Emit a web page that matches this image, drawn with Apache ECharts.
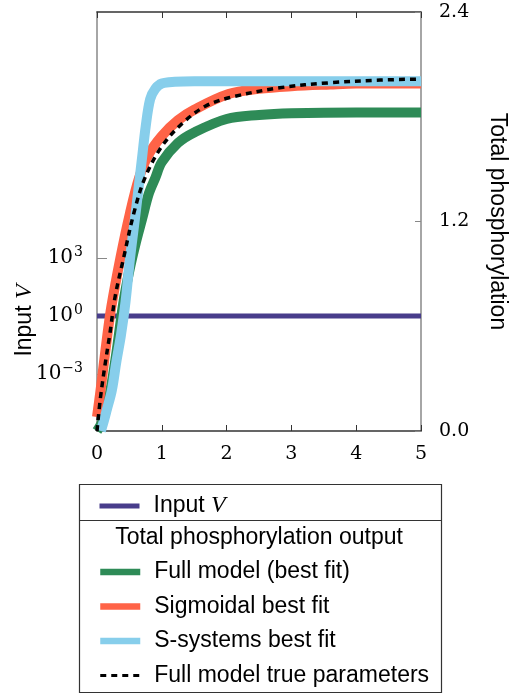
<!DOCTYPE html>
<html>
<head>
<meta charset="utf-8">
<script src="https://cdn.jsdelivr.net/npm/echarts@6/dist/echarts.min.js"></script>
<style>html,body{margin:0;padding:0;background:#fff}#c{width:511px;height:696px}</style>
</head>
<body>
<div id="c"></div>
<script>
// ---- data ----
const inputX = [0, 5];
const inputV = [1, 1];

const fullFitX = [0, 0.1, 0.2, 0.3, 0.4, 0.5, 0.6, 0.7, 0.8, 0.9, 1.0, 1.25, 1.5, 2.0, 2.5, 3, 4, 5];
const fullFitY = [0, 0.07, 0.22, 0.45, 0.72, 0.92, 1.08, 1.22, 1.36, 1.45, 1.54, 1.65, 1.71, 1.787, 1.81, 1.82, 1.825, 1.825];

const sigX = [0, 0.05, 0.1, 0.16, 0.22, 0.36, 0.51, 0.65, 0.79, 1.0, 1.25, 1.5, 2.03, 2.5, 3, 3.6, 4, 5];
const sigY = [0.08, 0.22, 0.37, 0.55, 0.71, 0.99, 1.25, 1.45, 1.58, 1.69, 1.78, 1.84, 1.93, 1.96, 1.975, 1.985, 1.99, 1.99];

const ssysX = [0.06, 0.1, 0.15, 0.23, 0.3, 0.37, 0.44, 0.51, 0.6, 0.65, 0.7, 0.75, 0.82, 0.9, 1.0, 1.2, 1.5, 2, 3, 4, 5];
const ssysY = [0, 0.05, 0.12, 0.235, 0.4, 0.55, 0.74, 0.99, 1.26, 1.42, 1.58, 1.74, 1.9, 1.96, 1.99, 2.0, 2.003, 2.003, 2.003, 2.003, 2.003];

const trueX = [0, 0.05, 0.12, 0.2, 0.28, 0.41, 0.57, 0.74, 1.0, 1.31, 1.67, 2.05, 2.82, 3.6, 4.37, 5];
const trueY = [0, 0.18, 0.37, 0.56, 0.77, 0.99, 1.25, 1.45, 1.63, 1.76, 1.86, 1.91, 1.966, 1.995, 2.01, 2.016];

const xTicks = [0, 1, 2, 3, 4, 5];
const leftTickValues = [0.001, 1, 1000];
const names = ['Input V', 'Full model (best fit)', 'Sigmoidal best fit', 'S-systems best fit', 'Full model true parameters'];
const legendTitle = 'Total phosphorylation output';

const zip = (xs, ys) => xs.map((x, i) => [x, ys[i]]);

const serif = 'DejaVu Serif';
const sans = 'Liberation Sans';
const xAxisColor = '#333';
const yAxisColor = '#888';

const chart = echarts.init(document.getElementById('c'), null, {renderer: 'canvas'});

const lineSeries = (name, data, color, width, extra) => Object.assign({
  name, type: 'line', data, xAxisIndex: 0, yAxisIndex: 1,
  symbol: 'none', showSymbol: false, smooth: 0.35,
  lineStyle: {color, width, cap: 'butt', join: 'round'}, itemStyle: {color},
  emphasis: {disabled: true}, silent: true, animation: false
}, extra || {});

chart.setOption({
  animation: false,
  grid: {left: 97, right: 90, top: 12, bottom: 265, containLabel: false, outerBoundsMode: 'none'},
  xAxis: [{
    type: 'value', position: 'bottom', min: 0, max: 5, interval: 1,
    axisLine: {onZero: false, lineStyle: {color: xAxisColor, width: 1.5}},
    axisTick: {inside: true, length: 6, lineStyle: {color: xAxisColor, width: 1}},
    axisLabel: {fontFamily: serif, fontSize: 19, color: '#000', margin: 14,
      customValues: xTicks},
    splitLine: {show: false}
  }, {
    type: 'value', position: 'top', min: 0, max: 5, interval: 1,
    axisLine: {onZero: false, lineStyle: {color: xAxisColor, width: 1.5}},
    axisTick: {inside: true, length: 6, lineStyle: {color: xAxisColor, width: 1}},
    axisLabel: {show: false},
    splitLine: {show: false}
  }],
  yAxis: [{
    type: 'log', position: 'left', logBase: 10,
    min: Math.pow(10, -5.95), max: Math.pow(10, 15.72),
    name: 'Input {i|V}', nameLocation: 'middle', nameRotate: 90, nameGap: 60,
    nameMoveOverlap: false,
    nameTextStyle: {fontFamily: sans, fontSize: 23, color: '#000', padding: [0, 198, 0, 0],
      rich: {i: {fontFamily: 'Liberation Serif', fontStyle: 'italic', fontSize: 24}}},
    axisLine: {onZero: false, lineStyle: {color: yAxisColor, width: 1.5}},
    axisTick: {inside: true, length: 10, customValues: leftTickValues, lineStyle: {color: yAxisColor, width: 1}},
    minorTick: {show: false},
    axisLabel: {customValues: leftTickValues, margin: 14, color: '#000',
      fontFamily: serif, fontSize: 20,
      formatter: v => {
        const e = Math.round(Math.log10(v));
        return '10{sup|' + (e < 0 ? '\u2212' + (-e) : e) + '}';
      },
      rich: {sup: {fontFamily: serif, fontSize: 14, padding: [0, 0, 12, 1]}}
    },
    splitLine: {show: false}
  }, {
    type: 'value', position: 'right', min: 0, max: 2.4, interval: 1.2,
    name: 'Total phosphorylation', nameLocation: 'middle', nameRotate: -90, nameGap: 65,
    nameMoveOverlap: false,
    nameTextStyle: {fontFamily: sans, fontSize: 23, color: '#000'},
    axisLine: {onZero: false, lineStyle: {color: yAxisColor, width: 1.5}},
    axisTick: {inside: true, length: 6, lineStyle: {color: yAxisColor, width: 1}},
    axisLabel: {fontFamily: serif, fontSize: 19, color: '#000', margin: 18,
      formatter: v => v.toFixed(1)},
    splitLine: {show: false}
  }],
  legend: [{
    data: [{name: names[0], lineStyle: {width: 5}}],
    orient: 'vertical', left: 92, top: 489,
    itemWidth: 40, itemHeight: 14, itemGap: 10,
    itemStyle: {opacity: 0},
    selectedMode: false,
    formatter: n => 'Input {i|V}',
    textStyle: {fontFamily: sans, fontSize: 23, color: '#000', lineHeight: 24, padding: [0, 0, 0, 9],
      rich: {i: {fontFamily: 'Liberation Serif', fontStyle: 'italic', fontSize: 24}}}
  }, {
    data: names.slice(1).map((n, i) => ({name: n, lineStyle: {width: i === 3 ? 3 : 6.5}})),
    orient: 'vertical', left: 92, top: 555,
    itemWidth: 40, itemHeight: 14, itemGap: 10.5,
    itemStyle: {opacity: 0},
    selectedMode: false,
    textStyle: {fontFamily: sans, fontSize: 23, color: '#000', lineHeight: 24, padding: [0, 0, 0, 9]}
  }],
  graphic: [
    {type: 'rect', shape: {x: 79.5, y: 484.5, width: 362, height: 208}, style: {fill: 'none', stroke: '#333', lineWidth: 1.2}, silent: true},
    {type: 'line', shape: {x1: 79.5, y1: 520.5, x2: 441.5, y2: 520.5}, style: {stroke: '#333', lineWidth: 1.2}, silent: true},
    {type: 'text', x: 259, y: 538, style: {text: legendTitle, font: '23px "Liberation Sans"', fill: '#000', align: 'center', verticalAlign: 'middle'}, silent: true}
  ],
  series: [
    lineSeries(names[0], zip(inputX, inputV), '#483d8b', 5, {yAxisIndex: 0, smooth: false}),
    lineSeries(names[1], zip(fullFitX, fullFitY), '#2e8b57', 10),
    lineSeries(names[2], zip(sigX, sigY), '#ff6347', 10),
    lineSeries(names[3], zip(ssysX, ssysY), '#87ceeb', 10),
    lineSeries(names[4], zip(trueX, trueY), '#000', 3.5, {lineStyle: {color: '#000', width: 3.5, type: [6, 5]}})
  ]
});
</script>
</body>
</html>
